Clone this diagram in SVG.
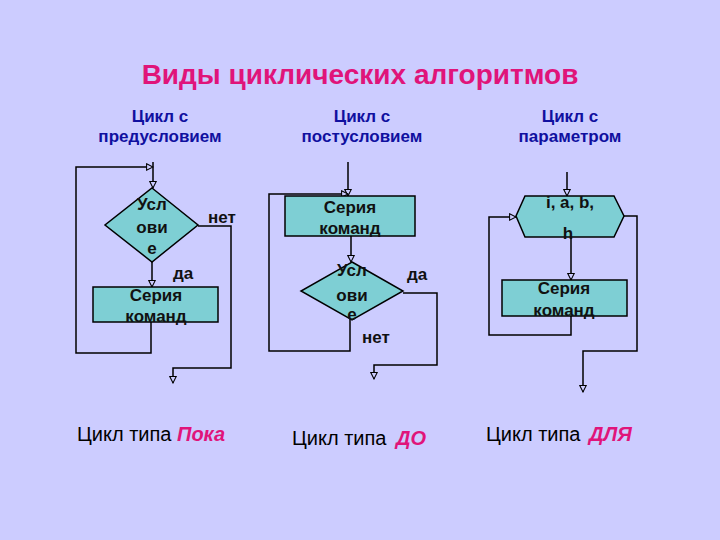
<svg xmlns="http://www.w3.org/2000/svg" width="720" height="540" viewBox="0 0 720 540">
<defs>
<marker id="arr" viewBox="0 0 10 10" refX="9" refY="5" markerWidth="8" markerHeight="8" markerUnits="userSpaceOnUse" orient="auto">
<path d="M1,1 L9,5 L1,9 Z" fill="#CCCCFF" stroke="#000" stroke-width="1.3"/>
</marker>
<style>
.shape{fill:#7ECFD4;stroke:#000;stroke-width:1.5}
.ln{fill:none;stroke:#000;stroke-width:1.5}
.nt{font-family:"Liberation Sans",Arial,sans-serif;font-weight:bold;font-size:17px;fill:#111;text-anchor:middle}
.lbl{font-family:"Liberation Sans",Arial,sans-serif;font-weight:bold;font-size:17px;fill:#111}
.sub{font-family:"Liberation Sans",Arial,sans-serif;font-weight:bold;font-size:17px;fill:#1010A0;text-anchor:middle}
.bot{font-family:"Liberation Sans",Arial,sans-serif;font-size:20px;fill:#000}
.em{font-weight:bold;font-style:italic;fill:#E0147A}
</style>
</defs>
<rect width="720" height="540" fill="#CCCCFF"/>
<text x="360" y="84" text-anchor="middle" font-family="Liberation Sans,Arial,sans-serif" font-weight="bold" font-size="28" fill="#E0147A">Виды циклических алгоритмов</text>
<g id="subtitles">
<text class="sub" x="160" y="122">Цикл с</text>
<text class="sub" x="160" y="142">предусловием</text>
<text class="sub" x="362" y="122">Цикл с</text>
<text class="sub" x="362" y="142">постусловием</text>
<text class="sub" x="570" y="122">Цикл с</text>
<text class="sub" x="570" y="142">параметром</text>
</g>
<g id="connectors">
<line class="ln" x1="153" y1="162" x2="153" y2="188" marker-end="url(#arr)"/>
<polyline class="ln" points="151,322 151,353 76,353 76,167 153,167" marker-end="url(#arr)"/>
<polyline class="ln" points="198,226 231,226 231,368 173,368 173,383" marker-end="url(#arr)"/>
<line class="ln" x1="152" y1="262" x2="152" y2="287" marker-end="url(#arr)"/>
<line class="ln" x1="348" y1="162" x2="348" y2="196" marker-end="url(#arr)"/>
<polyline class="ln" points="350,319 350,351 269,351 269,194 348,194" marker-end="url(#arr)"/>
<line class="ln" x1="351" y1="236" x2="351" y2="262" marker-end="url(#arr)"/>
<polyline class="ln" points="403,293 437,293 437,365 374,365 374,379" marker-end="url(#arr)"/>
<line class="ln" x1="567" y1="172" x2="567" y2="196" marker-end="url(#arr)"/>
<line class="ln" x1="571" y1="237" x2="571" y2="280" marker-end="url(#arr)"/>
<polyline class="ln" points="571,316 571,335 489,335 489,217 516,217" marker-end="url(#arr)"/>
<polyline class="ln" points="624,216 637,216 637,351 583,351 583,392" marker-end="url(#arr)"/>
</g>
<g id="cond1">
<polygon class="shape" points="152,188 198,225 152,262 105,225"/>
<text class="nt" x="152" y="210">Усл</text>
<text class="nt" x="152" y="233">ови</text>
<text class="nt" x="152" y="254">е</text>
</g>
<g id="body1">
<rect class="shape" x="93" y="287" width="125" height="35"/>
<text class="nt" x="156" y="301">Серия</text>
<text class="nt" x="156" y="322">команд</text>
</g>
<g id="body2">
<rect class="shape" x="285" y="196" width="130" height="40"/>
<text class="nt" x="350" y="213">Серия</text>
<text class="nt" x="350" y="234">команд</text>
</g>
<g id="cond2">
<polygon class="shape" points="352,262 403,291 352,320 301,291"/>
<text class="nt" x="352" y="276">Усл</text>
<text class="nt" x="352" y="301">ови</text>
<text class="nt" x="352" y="320">е</text>
</g>
<g id="param3">
<polygon class="shape" points="525,196 614,196 624,216 614,237 525,237 516,216"/>
<text class="nt" x="570" y="208">i, a, b,</text>
<text class="nt" x="568" y="239">h</text>
</g>
<g id="body3">
<rect class="shape" x="502" y="280" width="125" height="36"/>
<text class="nt" x="564" y="294">Серия</text>
<text class="nt" x="564" y="316">команд</text>
</g>
<g id="labels">
<text class="lbl" x="208" y="223">нет</text>
<text class="lbl" x="173" y="279">да</text>
<text class="lbl" x="407" y="280">да</text>
<text class="lbl" x="362" y="343">нет</text>
</g>
<g id="captions">
<text class="bot" x="77" y="441">Цикл типа <tspan class="em">Пока</tspan></text>
<text class="bot" x="292" y="445">Цикл типа  <tspan class="em" dx="4">ДО</tspan></text>
<text class="bot" x="486" y="441">Цикл типа  <tspan class="em" dx="3">ДЛЯ</tspan></text>
</g>
</svg>
